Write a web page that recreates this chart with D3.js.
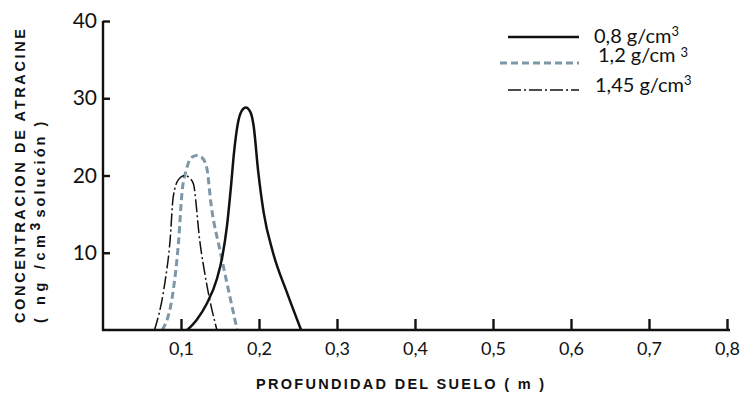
<!DOCTYPE html>
<meta charset="utf-8">
<head>
<style>
body { margin: 0; background: #fff; }
svg { display: block; }
.axis path, .axis line { stroke: #111; stroke-width: 2.4; }
.axis text { font-family: Lato, "DejaVu Sans", sans-serif; fill: #111; }
.title { font-family: "Liberation Sans", Arial, sans-serif; font-weight: bold; font-size: 14.5px; fill: #111; }
.legend text { font-family: Lato, "DejaVu Sans", sans-serif; font-size: 20px; fill: #111; }
</style>
</head>
<body>
<svg width="741" height="402"></svg>
<script src="https://cdn.jsdelivr.net/npm/d3@7"></script>
<script>

// profundidad (m) / concentracion (ng/cm3)
var depth08 = [0.108, 0.120, 0.133, 0.146, 0.153, 0.159, 0.164, 0.168, 0.173, 0.178, 0.183, 0.189, 0.193, 0.199, 0.206, 0.218, 0.236, 0.254],
    conc08  = [0, 1.3, 3.4, 6.6, 9.5, 13.5, 18.5, 23.0, 26.8, 28.4, 28.8, 28.2, 26.5, 20.5, 15.2, 10.0, 4.8, 0];

var depth12 = [0.076, 0.090, 0.097, 0.101, 0.107, 0.113, 0.120, 0.127, 0.133, 0.139, 0.150, 0.161, 0.172],
    conc12  = [0, 5.1, 11.6, 17.5, 20.8, 22.3, 22.6, 22.3, 21.0, 15.9, 10.3, 5.1, 0];

var depth145 = [0.066, 0.079, 0.086, 0.090, 0.097, 0.105, 0.112, 0.116, 0.124, 0.133, 0.146],
    conc145  = [0, 5.9, 11.6, 17.2, 19.5, 20.0, 19.6, 18.9, 11.6, 5.9, 0];

var xTicks = [0.1, 0.2, 0.3, 0.4, 0.5, 0.6, 0.7, 0.8],
    xTickLabels = ["0,1", "0,2", "0,3", "0,4", "0,5", "0,6", "0,7", "0,8"],
    yTicks = [10, 20, 30, 40];

var legendLabels = ["0,8 g/cm", "1,2 g/cm ", "1,45 g/cm"];

var svg = d3.select("svg");

var x = d3.scaleLinear().domain([0, 0.8]).range([103, 727]),
    y = d3.scaleLinear().domain([0, 40]).range([330, 21]);

var series = [
  {label: legendLabels[0], xs: depth08, ys: conc08, color: "#111", width: 2.5, dash: null},
  {label: legendLabels[1], xs: depth12, ys: conc12, color: "#7d97a8", width: 3, dash: "7,4"},
  {label: legendLabels[2], xs: depth145, ys: conc145, color: "#111", width: 1.5, dash: "13,3,2,3"}
];

var line = d3.line()
    .x(function(d) { return x(d[0]); })
    .y(function(d) { return y(d[1]); })
    .curve(d3.curveMonotoneX);

// blue first so the black curves sit on top
[series[1], series[2], series[0]].forEach(function(s) {
  svg.append("path")
      .datum(d3.zip(s.xs, s.ys))
      .attr("fill", "none")
      .attr("stroke", s.color)
      .attr("stroke-width", s.width)
      .attr("stroke-dasharray", s.dash)
      .attr("d", line);
});

var xAxis = svg.append("g")
    .attr("class", "axis")
    .attr("transform", "translate(0," + y(0) + ")")
    .call(d3.axisBottom(x)
      .tickValues(xTicks)
      .tickFormat(function(d, i) { return xTickLabels[i]; })
      .tickSizeInner(-11).tickSizeOuter(0).tickPadding(12));
xAxis.selectAll("text").attr("font-size", 18);
xAxis.selectAll(".tick line").attr("stroke-width", 1.5);
xAxis.select(".domain").attr("d", "M" + (x(0) - 1) + ",0H" + (x(0.8) + 3));

var yAxis = svg.append("g")
    .attr("class", "axis")
    .attr("transform", "translate(" + x(0) + ",0)")
    .call(d3.axisLeft(y)
      .tickValues(yTicks)
      .tickSizeInner(-7).tickSizeOuter(0).tickPadding(6));
yAxis.selectAll("text").attr("font-size", 21);
yAxis.selectAll(".tick line").attr("stroke-width", 1.5);
yAxis.select(".domain").attr("d", "M0," + (y(0) + 1) + "V" + y(40));

// axis titles
svg.append("text")
    .attr("class", "title")
    .attr("x", 256).attr("y", 389)
    .attr("textLength", 288).attr("lengthAdjust", "spacing")
    .text("PROFUNDIDAD DEL SUELO ( m )");

svg.append("text")
    .attr("class", "title")
    .attr("transform", "translate(25,323) rotate(-90)")
    .attr("textLength", 294).attr("lengthAdjust", "spacing")
    .text("CONCENTRACION DE ATRACINE");

var t2 = svg.append("text")
    .attr("class", "title")
    .attr("transform", "translate(45,323) rotate(-90)");
t2.append("tspan").attr("textLength", 88).attr("lengthAdjust", "spacing").text("( ng /cm");
t2.append("tspan").attr("dy", -5).attr("font-size", 14).text("3");
t2.append("tspan").attr("dy", 5).attr("dx", 5).attr("textLength", 96).attr("lengthAdjust", "spacing").text("solución )");

// legend
var legendRows = [37, 63, 90],
    legendText = [43, 62, 92],
    legendTextX = [594, 598, 595],
    supShift = [-7, -5, -7];

var legend = svg.append("g").attr("class", "legend");
series.forEach(function(s, i) {
  legend.append("line")
      .attr("x1", i == 1 ? 500 : 508).attr("x2", 579)
      .attr("y1", legendRows[i]).attr("y2", legendRows[i])
      .attr("stroke", s.color)
      .attr("stroke-width", s.width)
      .attr("stroke-dasharray", s.dash);
  var t = legend.append("text")
      .attr("x", legendTextX[i]).attr("y", legendText[i]);
  t.append("tspan").text(s.label);
  t.append("tspan").attr("dy", supShift[i]).attr("font-size", 13).text("3");
});

</script>
</body>
